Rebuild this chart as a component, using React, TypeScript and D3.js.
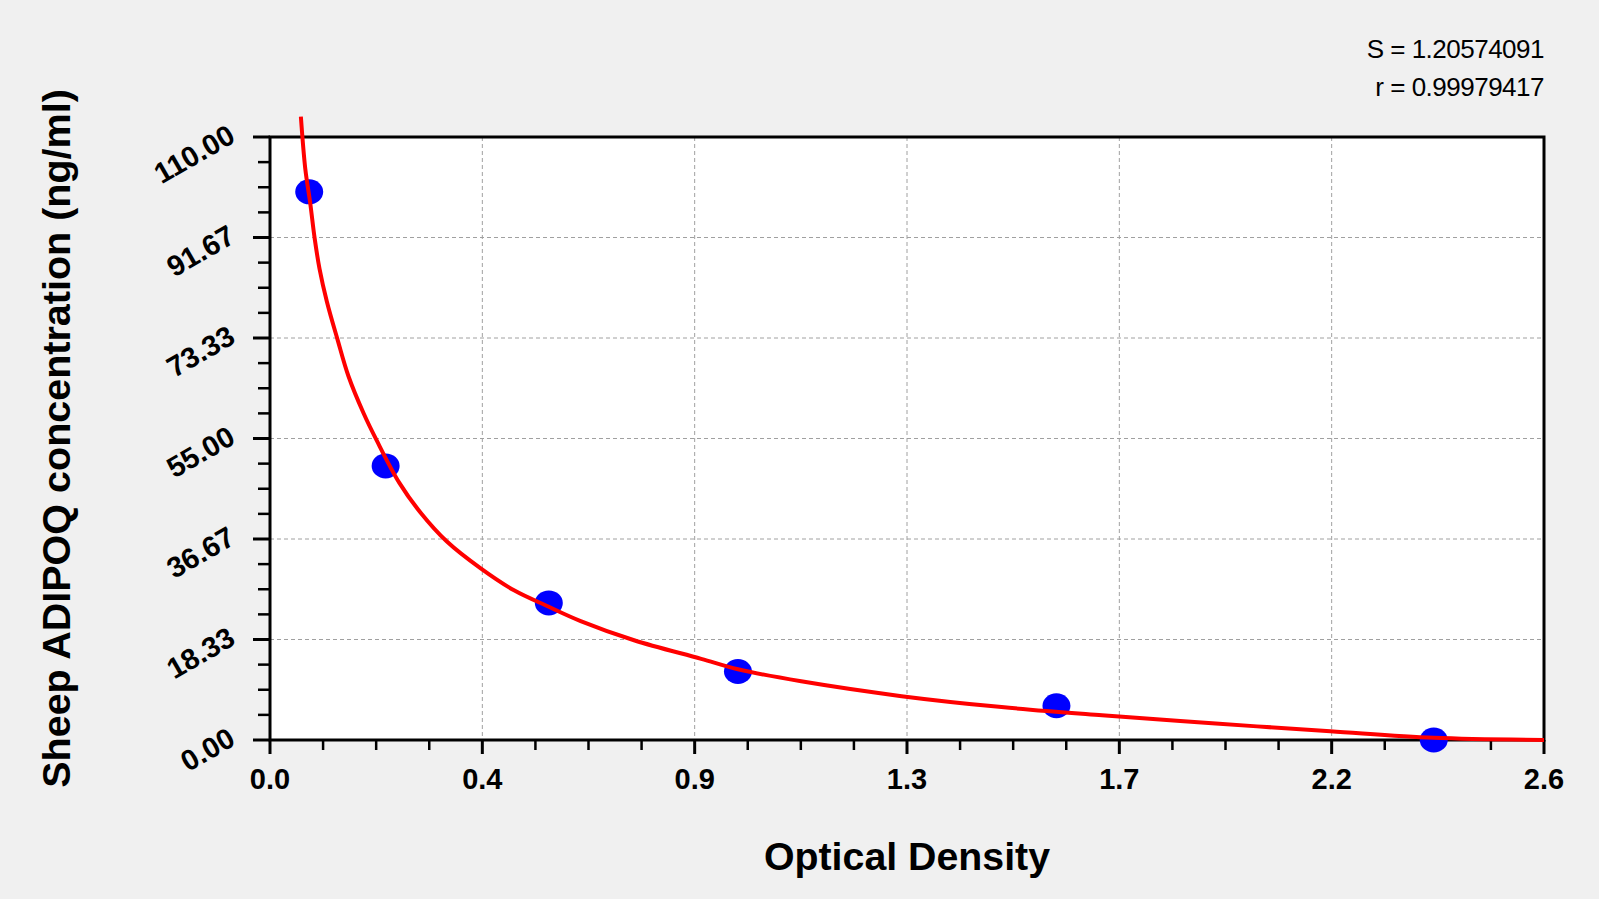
import React, { useEffect } from "react";
import * as d3 from "d3";

// Standard points (optical density vs concentration)
const pointOD = [0.08, 0.236, 0.569, 0.955, 1.605, 2.375];
const pointConc = [100, 50, 25, 12.5, 6.25, 0];

// Fitted curve
const curveOD = [
  0.063, 0.072, 0.082, 0.091, 0.101, 0.116, 0.138, 0.16, 0.191, 0.218, 0.264,
  0.307, 0.361, 0.43, 0.498, 0.569, 0.634, 0.743, 0.88, 0.955, 1.084, 1.289,
  1.493, 1.698, 1.93, 2.164, 2.375, 2.6,
];
const curveConc = [
  113.7, 104.2, 98.0, 91.6, 86.0, 80.0, 73.0, 66.4, 59.6, 54.6, 46.9, 41.5,
  36.2, 31.3, 27.3, 24.3, 21.7, 18.2, 14.8, 12.9, 10.7, 8.0, 6.0, 4.5, 3.0,
  1.6, 0.4, 0,
];

const xTickLabels = ["0.0", "0.4", "0.9", "1.3", "1.7", "2.2", "2.6"];
const yTickLabels = ["0.00", "18.33", "36.67", "55.00", "73.33", "91.67", "110.00"];

const xMax = 2.6;
const yMax = 110;
const statLines = ["S = 1.20574091", "r = 0.99979417"];
const xTitle = "Optical Density";
const yTitle = "Sheep ADIPOQ concentration (ng/ml)";

const W = 1599;
const H = 899;
const L = 270;
const R = 1544;
const T = 137;
const B = 740;
const FONT = "'Liberation Sans', Arial, sans-serif";

export default function App() {
  useEffect(() => {
    document.body.style.margin = "0";
    document.body.style.background = "#f0f0f0";
  }, []);

  const x = d3.scaleLinear().domain([0, xMax]).range([L, R]);
  const y = d3.scaleLinear().domain([0, yMax]).range([B, T]);

  const nMajor = 6;
  const xMajor = d3.range(nMajor + 1).map((i) => (i * xMax) / nMajor);
  const yMajor = d3.range(nMajor + 1).map((i) => (i * yMax) / nMajor);
  const xMinor = d3.range(nMajor * 4 + 1).filter((i) => i % 4 !== 0).map((i) => (i * xMax) / (nMajor * 4));
  const yMinor = d3.range(nMajor * 4 + 1).filter((i) => i % 4 !== 0).map((i) => (i * yMax) / (nMajor * 4));

  const curveData = curveOD.map((d, i) => [d, curveConc[i]] as [number, number]);
  const line = d3
    .line<[number, number]>()
    .x((d) => x(d[0]))
    .y((d) => y(d[1]))
    .curve(d3.curveCatmullRom.alpha(0.5));

  return (
    <svg
      width={W}
      height={H}
      style={{ position: "absolute", left: 0, top: 0, background: "#f0f0f0", display: "block" }}
    >
      <rect x={0} y={0} width={W} height={H} fill="#f0f0f0" />
      <rect x={L} y={T} width={R - L} height={B - T} fill="#ffffff" />

      {/* grid */}
      {xMajor.slice(1, -1).map((v, i) => (
        <line key={"gx" + i} x1={x(v)} x2={x(v)} y1={T} y2={B} stroke="#a0a0a0" strokeWidth={1} strokeDasharray="4,3" />
      ))}
      {yMajor.slice(1, -1).map((v, i) => (
        <line key={"gy" + i} x1={L} x2={R} y1={y(v)} y2={y(v)} stroke="#a0a0a0" strokeWidth={1} strokeDasharray="4,3" />
      ))}

      {/* frame */}
      <rect x={L} y={T} width={R - L} height={B - T} fill="none" stroke="#000" strokeWidth={3} />

      {/* x ticks */}
      {xMajor.map((v, i) => (
        <line key={"xt" + i} x1={x(v)} x2={x(v)} y1={B} y2={B + 14} stroke="#000" strokeWidth={3} />
      ))}
      {xMinor.map((v, i) => (
        <line key={"xm" + i} x1={x(v)} x2={x(v)} y1={B} y2={B + 10} stroke="#000" strokeWidth={2.5} />
      ))}
      {xMajor.map((v, i) => (
        <text
          key={"xl" + i}
          x={x(v)}
          y={789}
          textAnchor="middle"
          fontFamily={FONT}
          fontWeight="bold"
          fontSize={29}
          fill="#000"
        >
          {xTickLabels[i]}
        </text>
      ))}

      {/* y ticks */}
      {yMajor.map((v, i) => (
        <line key={"yt" + i} x1={L - 17} x2={L} y1={y(v)} y2={y(v)} stroke="#000" strokeWidth={3} />
      ))}
      {yMinor.map((v, i) => (
        <line key={"ym" + i} x1={L - 12} x2={L} y1={y(v)} y2={y(v)} stroke="#000" strokeWidth={2.5} />
      ))}
      {yMajor.map((v, i) => (
        <text
          key={"yl" + i}
          transform={`translate(237,${y(v) + 4}) rotate(-30)`}
          textAnchor="end"
          fontFamily={FONT}
          fontWeight="bold"
          fontSize={29}
          fill="#000"
        >
          {yTickLabels[i]}
        </text>
      ))}

      {/* points */}
      {pointOD.map((d, i) => (
        <ellipse key={"p" + i} cx={x(d)} cy={y(pointConc[i])} rx={14} ry={12.5} fill="#0000ff" />
      ))}

      {/* fitted curve */}
      <path d={line(curveData) || ""} fill="none" stroke="#ff0000" strokeWidth={4} strokeLinejoin="round" />

      {/* titles */}
      <text x={(L + R) / 2} y={870} textAnchor="middle" fontFamily={FONT} fontWeight="bold" fontSize={39.3} fill="#000">
        {xTitle}
      </text>
      <text
        transform={`translate(70,${(T + B) / 2}) rotate(-90)`}
        textAnchor="middle"
        fontFamily={FONT}
        fontWeight="bold"
        fontSize={39.5}
        fill="#000"
      >
        {yTitle}
      </text>

      {/* stats */}
      {statLines.map((s, i) => (
        <text
          key={"s" + i}
          x={1544}
          y={58 + i * 38}
          textAnchor="end"
          fontFamily={FONT}
          fontSize={26}
          letterSpacing={-0.5}
          fill="#000"
        >
          {s}
        </text>
      ))}
    </svg>
  );
}
